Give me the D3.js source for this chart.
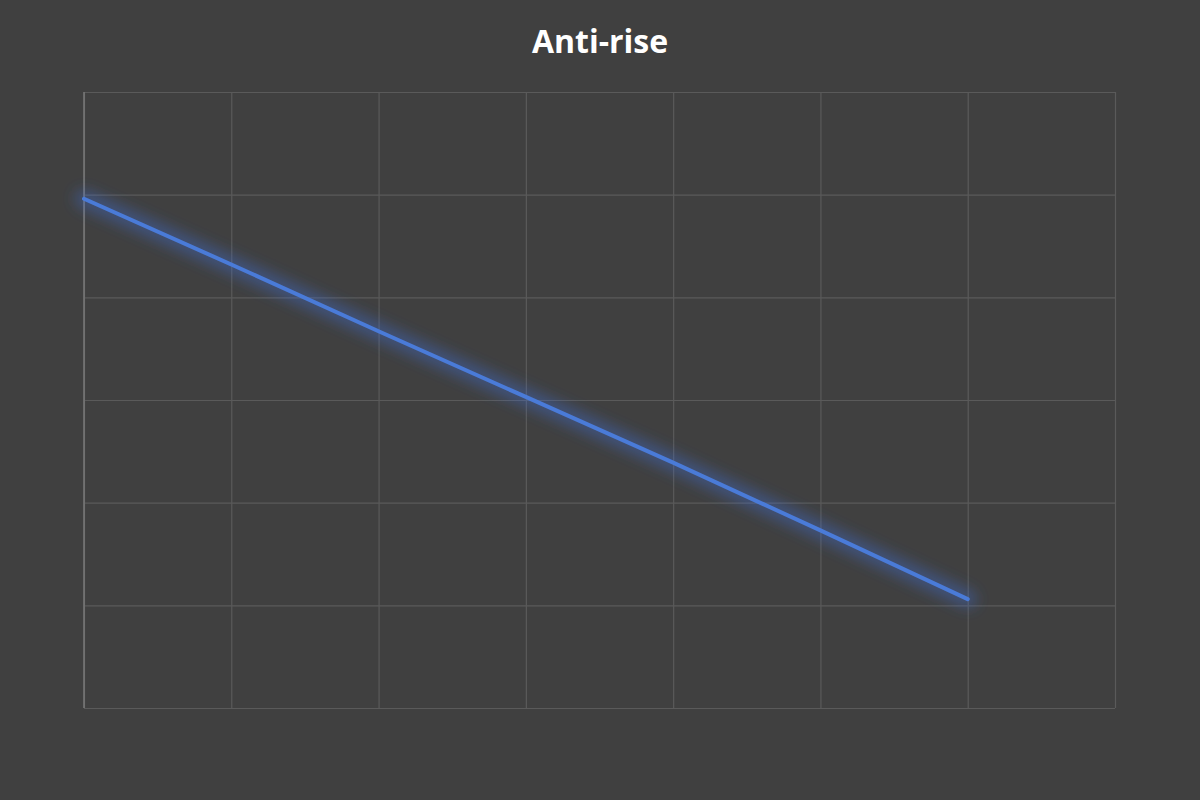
<!DOCTYPE html>
<html>
<head>
<meta charset="utf-8">
<script src="https://cdn.jsdelivr.net/npm/d3@7"></script>
<style>
  body { margin: 0; background: #404040; }
</style>
</head>
<body>
<div id="chart"></div>
<script>
// values (no labels shown in the reference)
var steps = [0, 1, 2, 3, 4, 5, 6];
var values = [49.6, 43.2, 36.7, 30.3, 23.9, 17.3, 10.6];
var xTicks = [0, 1, 2, 3, 4, 5, 6, 7];
var yTicks = [0, 10, 20, 30, 40, 50, 60];

var svgWidth = 1200, svgHeight = 800;
var margin = {top: 92, right: 85, bottom: 92, left: 84},
    width = svgWidth - margin.left - margin.right,
    height = svgHeight - margin.top - margin.bottom;

var svg = d3.select("#chart").append("svg")
  .attr("width", svgWidth)
  .attr("height", svgHeight);

svg.append("rect")
  .attr("width", svgWidth).attr("height", svgHeight)
  .attr("fill", "#404040");

var defs = svg.append("defs");
var glow = defs.append("filter").attr("id", "glow")
  .attr("x", "-10%").attr("y", "-20%").attr("width", "120%").attr("height", "140%");
glow.append("feGaussianBlur").attr("in", "SourceGraphic").attr("stdDeviation", 7);

var x = d3.scaleLinear().domain([0, 7]).range([margin.left, margin.left + width]);
var y = d3.scaleLinear().domain([0, 60]).range([margin.top + height, margin.top]);

// grid
svg.append("g")
  .attr("transform", "translate(0," + (margin.top + height) + ")")
  .call(d3.axisBottom(x).tickValues(xTicks).tickSize(-height).tickFormat(""))
  .call(g => g.select(".domain").remove())
  .selectAll("line").attr("stroke", "#5a5a5a").attr("stroke-width", 1.2);

svg.append("g")
  .attr("transform", "translate(" + margin.left + ",0)")
  .call(d3.axisLeft(y).tickValues(yTicks).tickSize(-width).tickFormat(""))
  .call(g => g.select(".domain").remove())
  .selectAll("line").attr("stroke", "#5a5a5a").attr("stroke-width", 1.2);

// left axis line
svg.append("line")
  .attr("x1", x(0)).attr("x2", x(0))
  .attr("y1", y(60)).attr("y2", y(0))
  .attr("stroke", "#7a7a7a").attr("stroke-width", 1.5);

var line = d3.line()
  .x((d, i) => x(steps[i]))
  .y(d => y(d));

// soft glow under the line
svg.append("path")
  .datum(values)
  .attr("d", line)
  .attr("fill", "none")
  .attr("stroke", "#3f6fd8")
  .attr("stroke-width", 18)
  .attr("stroke-opacity", 0.4)
  .attr("stroke-linecap", "round")
  .attr("filter", "url(#glow)");

svg.append("path")
  .datum(values)
  .attr("d", line)
  .attr("fill", "none")
  .attr("stroke", "#4a7bd8")
  .attr("stroke-width", 4)
  .attr("stroke-linejoin", "round")
  .attr("stroke-linecap", "round");

svg.append("text")
  .attr("x", svgWidth / 2)
  .attr("y", 53)
  .attr("text-anchor", "middle")
  .attr("font-family", "'Open Sans', sans-serif")
  .attr("font-weight", "bold")
  .attr("font-size", 32)
  .attr("fill", "#ffffff")
  .text("Anti-rise");
</script>
</body>
</html>
